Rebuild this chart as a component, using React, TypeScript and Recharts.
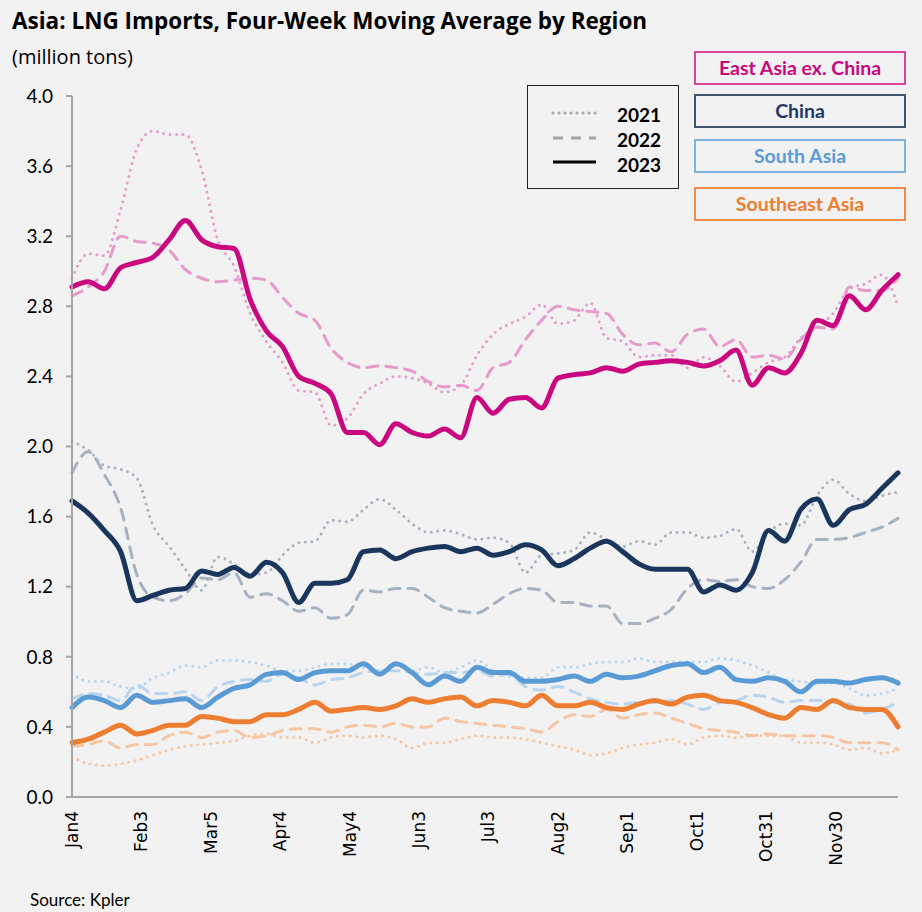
import React from "react";
import { LineChart, Line, XAxis, YAxis } from "recharts";

// x axis: days since Jan 4, one point per week
const tickDays = [0, 30, 60, 90, 120, 150, 180, 210, 240, 270, 300, 330];
const tickLabels = ["Jan4", "Feb3", "Mar5", "Apr4", "May4", "Jun3", "Jul3", "Aug2", "Sep1", "Oct1", "Oct31", "Nov30"];
const yTicks = [0, 0.4, 0.8, 1.2, 1.6, 2.0, 2.4, 2.8, 3.2, 3.6, 4.0];

const eastAsia2021 = [2.96, 3.10, 3.09, 3.35, 3.70, 3.80, 3.78, 3.78, 3.58, 3.18, 3.03, 2.76, 2.60, 2.48, 2.32, 2.31, 2.12, 2.16, 2.30, 2.36, 2.40, 2.39, 2.36, 2.31, 2.35, 2.52, 2.64, 2.70, 2.74, 2.81, 2.70, 2.72, 2.82, 2.62, 2.60, 2.51, 2.52, 2.52, 2.45, 2.51, 2.46, 2.37, 2.42, 2.48, 2.51, 2.62, 2.68, 2.76, 2.90, 2.93, 2.98, 2.80];
const eastAsia2022 = [2.86, 2.91, 3.00, 3.20, 3.17, 3.16, 3.12, 3.01, 2.96, 2.94, 2.95, 2.96, 2.95, 2.85, 2.76, 2.72, 2.56, 2.48, 2.45, 2.46, 2.45, 2.43, 2.37, 2.34, 2.35, 2.32, 2.45, 2.48, 2.61, 2.72, 2.80, 2.78, 2.77, 2.76, 2.64, 2.58, 2.59, 2.54, 2.64, 2.67, 2.57, 2.61, 2.51, 2.52, 2.50, 2.61, 2.68, 2.67, 2.91, 2.89, 2.89, 2.96];
const eastAsia2023 = [2.91, 2.94, 2.90, 3.02, 3.05, 3.08, 3.18, 3.29, 3.18, 3.14, 3.13, 2.84, 2.66, 2.57, 2.40, 2.36, 2.30, 2.08, 2.08, 2.01, 2.13, 2.08, 2.06, 2.10, 2.05, 2.28, 2.19, 2.27, 2.28, 2.22, 2.39, 2.41, 2.42, 2.45, 2.43, 2.47, 2.48, 2.49, 2.48, 2.46, 2.49, 2.55, 2.35, 2.45, 2.42, 2.53, 2.72, 2.69, 2.86, 2.78, 2.89, 2.98];

const china2021 = [2.03, 1.98, 1.89, 1.87, 1.82, 1.55, 1.43, 1.30, 1.18, 1.37, 1.33, 1.27, 1.28, 1.38, 1.45, 1.46, 1.58, 1.57, 1.64, 1.70, 1.64, 1.56, 1.51, 1.52, 1.50, 1.47, 1.48, 1.45, 1.28, 1.38, 1.39, 1.41, 1.51, 1.47, 1.43, 1.46, 1.44, 1.51, 1.51, 1.48, 1.49, 1.53, 1.40, 1.51, 1.56, 1.55, 1.72, 1.81, 1.73, 1.69, 1.72, 1.74];
const china2022 = [1.85, 1.97, 1.84, 1.65, 1.27, 1.14, 1.12, 1.16, 1.25, 1.24, 1.28, 1.14, 1.16, 1.12, 1.06, 1.08, 1.02, 1.04, 1.18, 1.17, 1.19, 1.19, 1.14, 1.08, 1.06, 1.05, 1.10, 1.16, 1.19, 1.18, 1.11, 1.11, 1.09, 1.09, 0.99, 0.99, 1.02, 1.07, 1.19, 1.24, 1.23, 1.24, 1.20, 1.19, 1.24, 1.34, 1.47, 1.47, 1.48, 1.51, 1.54, 1.59];
const china2023 = [1.69, 1.62, 1.52, 1.40, 1.12, 1.15, 1.18, 1.19, 1.29, 1.27, 1.31, 1.26, 1.34, 1.28, 1.11, 1.22, 1.22, 1.24, 1.40, 1.41, 1.36, 1.40, 1.42, 1.43, 1.40, 1.42, 1.38, 1.40, 1.44, 1.41, 1.32, 1.36, 1.42, 1.46, 1.40, 1.33, 1.30, 1.30, 1.30, 1.17, 1.21, 1.18, 1.28, 1.52, 1.46, 1.64, 1.70, 1.55, 1.64, 1.67, 1.76, 1.85];

const southAsia2021 = [0.71, 0.66, 0.66, 0.63, 0.62, 0.68, 0.71, 0.75, 0.74, 0.78, 0.78, 0.77, 0.75, 0.72, 0.72, 0.74, 0.76, 0.76, 0.74, 0.72, 0.75, 0.72, 0.74, 0.71, 0.74, 0.78, 0.72, 0.69, 0.68, 0.68, 0.74, 0.74, 0.76, 0.77, 0.77, 0.79, 0.77, 0.77, 0.77, 0.77, 0.79, 0.78, 0.75, 0.71, 0.67, 0.66, 0.65, 0.65, 0.62, 0.58, 0.59, 0.62];
const southAsia2022 = [0.56, 0.59, 0.58, 0.55, 0.64, 0.59, 0.59, 0.60, 0.55, 0.63, 0.66, 0.67, 0.66, 0.70, 0.68, 0.64, 0.67, 0.68, 0.71, 0.72, 0.72, 0.71, 0.70, 0.71, 0.71, 0.72, 0.69, 0.70, 0.63, 0.61, 0.63, 0.60, 0.56, 0.54, 0.53, 0.54, 0.54, 0.55, 0.53, 0.50, 0.54, 0.55, 0.58, 0.57, 0.54, 0.55, 0.55, 0.54, 0.53, 0.48, 0.50, 0.54];
const southAsia2023 = [0.51, 0.57, 0.55, 0.51, 0.58, 0.54, 0.55, 0.56, 0.51, 0.57, 0.62, 0.64, 0.70, 0.71, 0.67, 0.71, 0.72, 0.72, 0.76, 0.70, 0.76, 0.71, 0.64, 0.69, 0.66, 0.74, 0.71, 0.71, 0.66, 0.66, 0.67, 0.69, 0.66, 0.70, 0.68, 0.69, 0.72, 0.75, 0.76, 0.71, 0.74, 0.67, 0.66, 0.68, 0.66, 0.60, 0.66, 0.66, 0.65, 0.67, 0.68, 0.65];

const southeastAsia2021 = [0.23, 0.19, 0.18, 0.19, 0.21, 0.24, 0.27, 0.29, 0.30, 0.31, 0.32, 0.35, 0.36, 0.34, 0.34, 0.31, 0.34, 0.35, 0.34, 0.35, 0.33, 0.28, 0.31, 0.31, 0.33, 0.35, 0.34, 0.34, 0.33, 0.31, 0.29, 0.27, 0.24, 0.25, 0.28, 0.30, 0.31, 0.33, 0.30, 0.34, 0.35, 0.34, 0.35, 0.35, 0.35, 0.31, 0.31, 0.30, 0.27, 0.28, 0.25, 0.27];
const southeastAsia2022 = [0.29, 0.30, 0.32, 0.28, 0.30, 0.30, 0.35, 0.37, 0.34, 0.37, 0.38, 0.34, 0.35, 0.38, 0.39, 0.39, 0.37, 0.40, 0.41, 0.40, 0.42, 0.40, 0.40, 0.45, 0.43, 0.42, 0.41, 0.40, 0.39, 0.37, 0.43, 0.47, 0.46, 0.50, 0.45, 0.47, 0.48, 0.45, 0.42, 0.39, 0.38, 0.37, 0.35, 0.36, 0.35, 0.35, 0.35, 0.34, 0.31, 0.31, 0.31, 0.27];
const southeastAsia2023 = [0.31, 0.33, 0.37, 0.41, 0.36, 0.38, 0.41, 0.41, 0.46, 0.45, 0.43, 0.43, 0.47, 0.47, 0.50, 0.54, 0.49, 0.50, 0.51, 0.50, 0.52, 0.56, 0.54, 0.56, 0.57, 0.52, 0.55, 0.54, 0.52, 0.58, 0.52, 0.52, 0.54, 0.51, 0.50, 0.53, 0.55, 0.53, 0.57, 0.58, 0.55, 0.54, 0.51, 0.47, 0.45, 0.51, 0.50, 0.55, 0.51, 0.50, 0.50, 0.40];

const data = eastAsia2023.map((_, i) => ({
  day: i * 7,
  ea21: eastAsia2021[i],
  ea22: eastAsia2022[i],
  ea23: eastAsia2023[i],
  cn21: china2021[i],
  cn22: china2022[i],
  cn23: china2023[i],
  sa21: southAsia2021[i],
  sa22: southAsia2022[i],
  sa23: southAsia2023[i],
  se21: southeastAsia2021[i],
  se22: southeastAsia2022[i],
  se23: southeastAsia2023[i],
}));

const DOT = "0 6.5";
const DASH = "11 8";

// pale years first so the 2023 lines sit on top
const series = [
  { key: "se21", color: "#f6c5a3", width: 3, dash: DOT },
  { key: "se22", color: "#f6c5a3", width: 3, dash: DASH },
  { key: "sa21", color: "#b8d4ee", width: 3, dash: DOT },
  { key: "sa22", color: "#b8d4ee", width: 3, dash: DASH },
  { key: "cn21", color: "#a7b2c1", width: 3, dash: DOT },
  { key: "cn22", color: "#a7b2c1", width: 3, dash: DASH },
  { key: "ea21", color: "#e69bcb", width: 3, dash: DOT },
  { key: "ea22", color: "#e69bcb", width: 3, dash: DASH },
  { key: "se23", color: "#ed7d31", width: 5, dash: undefined },
  { key: "sa23", color: "#5b9bd5", width: 5, dash: undefined },
  { key: "cn23", color: "#1b365d", width: 5, dash: undefined },
  { key: "ea23", color: "#c9077f", width: 5, dash: undefined },
];

const regions = [
  { name: "East Asia ex. China", color: "#c9077f", border: "#d9449f", top: 51 },
  { name: "China", color: "#1f3864", border: "#44546a", top: 94 },
  { name: "South Asia", color: "#5b9bd5", border: "#7eb0e0", top: 139 },
  { name: "Southeast Asia", color: "#ed7d31", border: "#f08c4a", top: 187 },
];

const FONT = "Lato, 'Open Sans', sans-serif";
const HEAD_FONT = "'Open Sans', Lato, sans-serif";

const XTick = (props: any) => {
  const { x, y, payload } = props;
  const idx = tickDays.indexOf(payload.value);
  return (
    <text
      x={x}
      y={y}
      transform={`rotate(-90 ${x} ${y})`}
      textAnchor="end"
      dominantBaseline="central"
      fontFamily="'DejaVu Sans', Verdana, sans-serif"
      fontSize={17}
      fill="#000"
    >
      {tickLabels[idx]}
    </text>
  );
};

export default function App() {
  return (
    <div
      style={{
        position: "absolute",
        left: 0,
        top: 0,
        width: 922,
        height: 912,
        background: "#f2f2f2",
        fontFamily: FONT,
        overflow: "hidden",
      }}
    >
      <div style={{ position: "absolute", left: 12, top: 5, fontSize: 22.5, fontWeight: 700, color: "#000", fontFamily: HEAD_FONT, whiteSpace: "nowrap" }}>
        Asia: LNG Imports, Four-Week Moving Average by Region
      </div>
      <div style={{ position: "absolute", left: 12, top: 43, fontSize: 20, color: "#000", fontFamily: HEAD_FONT }}>
        (million tons)
      </div>

      <div style={{ position: "absolute", left: 0, top: 0 }}>
        <LineChart width={922} height={912} data={data} margin={{ top: 96, right: 24, bottom: 55, left: 0 }}>
          <XAxis
            dataKey="day"
            type="number"
            domain={[0, 357]}
            ticks={tickDays}
            tick={<XTick />}
            tickLine={false}
            tickSize={0}
            tickMargin={14}
            height={60}
            axisLine={{ stroke: "#a6a6a6", strokeWidth: 2 }}
            interval={0}
          />
          <YAxis
            domain={[0, 4]}
            ticks={yTicks}
            tickFormatter={(v: number) => v.toFixed(1)}
            width={72}
            tickSize={6}
            tickMargin={13}
            tick={{ fontSize: 19, fill: "#000", fontFamily: FONT }}
            tickLine={{ stroke: "#a6a6a6", strokeWidth: 2 }}
            axisLine={{ stroke: "#a6a6a6", strokeWidth: 2 }}
            interval={0}
          />
          {series.map((s) => (
            <Line
              key={s.key}
              dataKey={s.key}
              type="monotone"
              stroke={s.color}
              strokeWidth={s.width}
              strokeDasharray={s.dash}
              strokeLinecap="round"
              strokeLinejoin="round"
              dot={false}
              activeDot={false}
              isAnimationActive={false}
            />
          ))}
        </LineChart>
      </div>

      {/* year legend */}
      <div
        style={{
          position: "absolute",
          left: 527,
          top: 85,
          width: 150,
          height: 102,
          border: "1.5px solid #222",
        }}
      >
        <svg width={150} height={102} style={{ position: "absolute", left: 0, top: 0 }}>
          <line x1={25} x2={68} y1={27} y2={27} stroke="#a6a6a6" strokeWidth={3} strokeDasharray="0 6" strokeLinecap="round" />
          <line x1={25} x2={68} y1={52} y2={52} stroke="#a6a6a6" strokeWidth={3} strokeDasharray="10 8" />
          <line x1={25} x2={68} y1={76} y2={76} stroke="#000" strokeWidth={3} />
          {["2021", "2022", "2023"].map((t, i) => (
            <text key={t} x={89} y={28 + i * 25} dominantBaseline="central" fontFamily={FONT} fontWeight={700} fontSize={19} fill="#000">
              {t}
            </text>
          ))}
        </svg>
      </div>

      {/* region boxes */}
      {regions.map((r) => (
        <div
          key={r.name}
          style={{
            position: "absolute",
            left: 694,
            top: r.top,
            width: 208,
            height: 30,
            border: `2px solid ${r.border}`,
            color: r.color,
            fontWeight: 700,
            fontSize: 19.5,
            lineHeight: "30px",
            textAlign: "center",
          }}
        >
          {r.name}
        </div>
      ))}

      <div style={{ position: "absolute", left: 30, top: 889, fontSize: 17, color: "#000" }}>Source: Kpler</div>
    </div>
  );
}
